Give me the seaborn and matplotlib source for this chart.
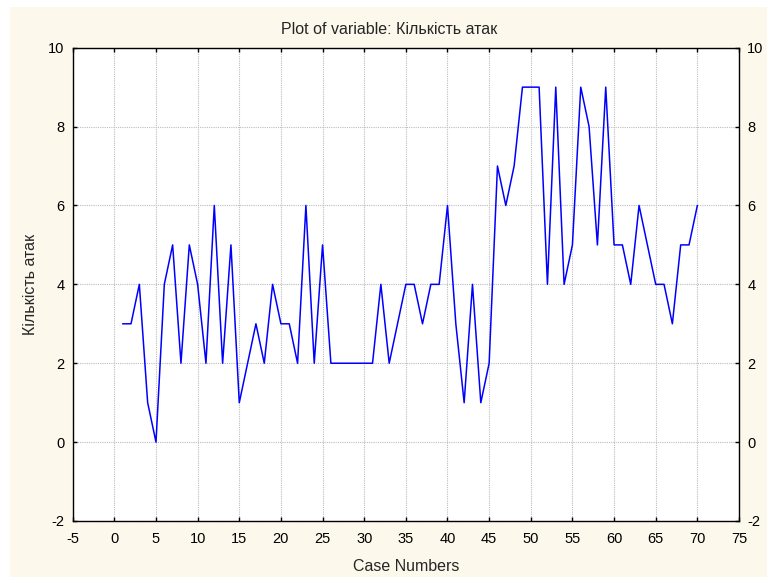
import numpy as np
import pandas as pd
import matplotlib
matplotlib.use("Agg")
import matplotlib.pyplot as plt
from matplotlib.patches import Rectangle
import seaborn as sns

cases = list(range(1, 71))
attacks = [3, 3, 4, 1, 0, 4, 5, 2, 5, 4,
           2, 6, 2, 5, 1, 2, 3, 2, 4, 3,
           3, 2, 6, 2, 5, 2, 2, 2, 2, 2,
           2, 4, 2, 3, 4, 4, 3, 4, 4, 6,
           3, 1, 4, 1, 2, 7, 6, 7, 9, 9,
           9, 4, 9, 4, 5, 9, 8, 5, 9, 5,
           5, 4, 6, 5, 4, 4, 3, 5, 5, 6]
xticks = list(range(-5, 80, 5))
yticks = list(range(-2, 12, 2))
title = "Plot of variable: Кількість атак"
xlabel = "Case Numbers"
ylabel = "Кількість атак"

df = pd.DataFrame({"case": cases, "attacks": attacks})

sns.set_style("ticks")
plt.rcParams["font.family"] = ["Liberation Sans", "DejaVu Sans"]

W, H = 767, 577
fig = plt.figure(figsize=(W / 100, H / 100), dpi=100, facecolor="white")
fig.patches.append(Rectangle((10 / W, 0), 1 - 10 / W, 1 - 7 / H,
                             transform=fig.transFigure, facecolor="#FDF8EC",
                             edgecolor="none", zorder=-10))
ax = fig.add_axes([72.7 / W, 1 - 521 / H, (739 - 72.7) / W, (521 - 47.7) / H])
ax.set_facecolor("white")

sns.lineplot(data=df, x="case", y="attacks", ax=ax, color="#0000FF",
             linewidth=1.1, estimator=None)

ax.set_xlim(-5, 75)
ax.set_ylim(-2, 10)
ax.set_xticks(xticks)
ax.set_yticks(yticks)
ax.set_xticklabels([str(t) for t in xticks])
ax.set_yticklabels([str(t) for t in yticks])
ax.grid(True, color="#BDBDBD", linestyle=(0, (1, 1)), linewidth=0.8)
ax.set_axisbelow(True)
for s in ax.spines.values():
    s.set_visible(True)
    s.set_color("black")
    s.set_linewidth(1.0)
ax.tick_params(axis="both", direction="in", length=3, width=1.0,
               top=True, right=True, labelright=True, labelsize=10.5,
               colors="black")
ax.tick_params(axis="x", pad=8)
ax.tick_params(axis="y", pad=6)
fig.text(389 / W, 1 - 30 / H, title, fontsize=11.5, ha="center", va="center")
ax.set_xlabel(xlabel, fontsize=11.5, labelpad=9)
ax.set_ylabel(ylabel, fontsize=11.5, labelpad=7)

fig.savefig("out.png", dpi=100, facecolor=fig.get_facecolor())
